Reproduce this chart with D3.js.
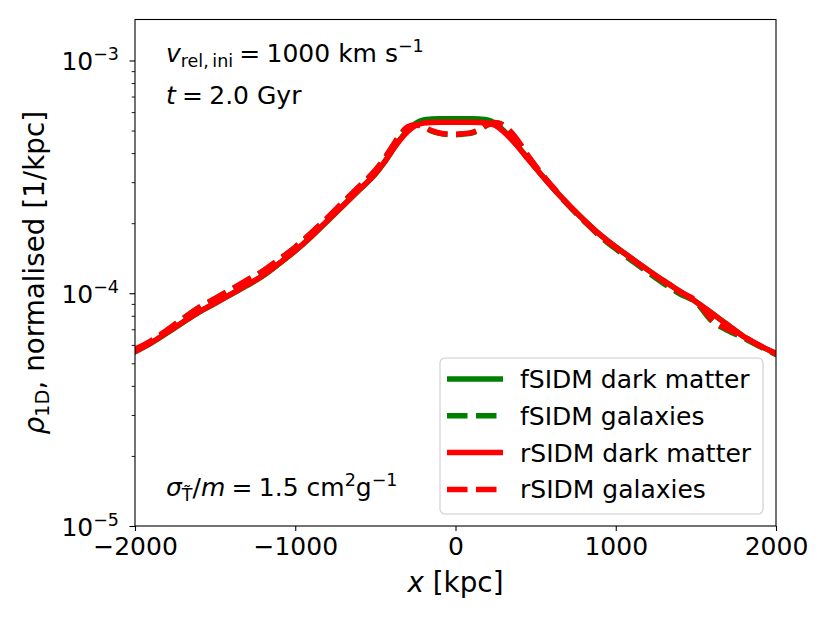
<!DOCTYPE html>
<html>
<head>
<meta charset="utf-8">
<script src="https://cdn.jsdelivr.net/npm/d3@7"></script>
<style>
  html, body { margin: 0; padding: 0; background: #fff; }
  svg { display: block; }
  text { font-family: "DejaVu Sans", sans-serif; fill: #000; }
</style>
</head>
<body>
<svg id="chart" width="830" height="623"></svg>
<script>
// ---------- data ----------
const xKpc = [-2000,-1900,-1800,-1700,-1600,-1500,-1400,-1300,-1200,-1100,-1000,-900,-800,-700,-600,-500,-450,-400,-350,-300,-250,-200,-150,-100,-50,0,50,100,150,200,250,300,350,400,450,500,600,700,800,900,1000,1100,1200,1300,1400,1500,1600,1700,1800,1900,2000];

const fSIDM_dm = [5.60e-5,6.10e-5,6.75e-5,7.50e-5,8.30e-5,9.05e-5,9.90e-5,1.08e-4,1.19e-4,1.34e-4,1.52e-4,1.75e-4,2.04e-4,2.38e-4,2.78e-4,3.25e-4,3.60e-4,4.05e-4,4.55e-4,5.00e-4,5.36e-4,5.55e-4,5.60e-4,5.62e-4,5.62e-4,5.62e-4,5.62e-4,5.62e-4,5.60e-4,5.55e-4,5.36e-4,5.00e-4,4.60e-4,4.20e-4,3.80e-4,3.45e-4,2.87e-4,2.42e-4,2.07e-4,1.79e-4,1.58e-4,1.41e-4,1.26e-4,1.13e-4,1.02e-4,9.20e-5,8.20e-5,7.30e-5,6.50e-5,5.95e-5,5.50e-5];

const fSIDM_gal = [5.72e-5,6.22e-5,6.92e-5,7.78e-5,8.65e-5,9.45e-5,1.035e-4,1.135e-4,1.245e-4,1.395e-4,1.575e-4,1.81e-4,2.10e-4,2.46e-4,2.87e-4,3.36e-4,3.72e-4,4.20e-4,4.72e-4,5.15e-4,5.28e-4,5.18e-4,4.98e-4,4.86e-4,4.81e-4,4.80e-4,4.83e-4,4.88e-4,5.03e-4,5.28e-4,5.40e-4,5.26e-4,4.88e-4,4.40e-4,3.90e-4,3.50e-4,2.88e-4,2.40e-4,2.05e-4,1.76e-4,1.55e-4,1.38e-4,1.23e-4,1.10e-4,9.95e-5,9.15e-5,7.60e-5,6.92e-5,6.42e-5,5.90e-5,5.45e-5];

const rSIDM_dm = [5.62e-5,6.12e-5,6.78e-5,7.52e-5,8.32e-5,9.08e-5,9.92e-5,1.085e-4,1.195e-4,1.345e-4,1.525e-4,1.755e-4,2.05e-4,2.39e-4,2.79e-4,3.26e-4,3.61e-4,4.05e-4,4.52e-4,4.94e-4,5.25e-4,5.38e-4,5.42e-4,5.43e-4,5.43e-4,5.43e-4,5.43e-4,5.43e-4,5.42e-4,5.38e-4,5.25e-4,4.95e-4,4.57e-4,4.18e-4,3.79e-4,3.45e-4,2.87e-4,2.42e-4,2.07e-4,1.79e-4,1.58e-4,1.41e-4,1.26e-4,1.13e-4,1.02e-4,9.20e-5,8.20e-5,7.30e-5,6.50e-5,5.95e-5,5.50e-5];

const rSIDM_gal = [5.75e-5,6.25e-5,6.95e-5,7.80e-5,8.70e-5,9.50e-5,1.04e-4,1.14e-4,1.25e-4,1.40e-4,1.58e-4,1.82e-4,2.11e-4,2.47e-4,2.88e-4,3.38e-4,3.74e-4,4.22e-4,4.75e-4,5.18e-4,5.30e-4,5.20e-4,5.00e-4,4.88e-4,4.83e-4,4.82e-4,4.85e-4,4.90e-4,5.05e-4,5.30e-4,5.42e-4,5.28e-4,4.90e-4,4.42e-4,3.92e-4,3.52e-4,2.90e-4,2.42e-4,2.06e-4,1.77e-4,1.57e-4,1.40e-4,1.25e-4,1.12e-4,1.01e-4,9.30e-5,7.70e-5,7.00e-5,6.50e-5,5.95e-5,5.50e-5];

const xTicks = [-2000, -1000, 0, 1000, 2000];
const xTickLabels = ["\u22122000", "\u22121000", "0", "1000", "2000"];
const yTicks = [1e-5, 1e-4, 1e-3];
const yTickExps = ["\u22125", "\u22124", "\u22123"];
const xDomain = [-2000, 2000];
const yDomain = [1e-5, 1.5e-3];

const seriesNames = ["fSIDM dark matter", "fSIDM galaxies", "rSIDM dark matter", "rSIDM galaxies"];
const seriesValues = [fSIDM_dm, fSIDM_gal, rSIDM_dm, rSIDM_gal];
const seriesColors = ["#008000", "#008000", "#ff0000", "#ff0000"];
const seriesDashed = [false, true, false, true];

// ---------- layout ----------
const L = 135, R = 776, T = 19.5, B = 526;
const svg = d3.select("#chart");
const x = d3.scaleLinear().domain(xDomain).range([L, R]);
const y = d3.scaleLog().domain(yDomain).range([B, T]);

const LW = 5.5;
const DASH = "20.5,8.5";
const FS = 25, FSS = 17.5;
const SP = "\u2005"; // math relation spacing

svg.append("defs").append("clipPath").attr("id", "clip")
  .append("rect").attr("x", L).attr("y", T).attr("width", R - L).attr("height", B - T);

const line = d3.line().x(d => x(d[0])).y(d => y(d[1])).curve(d3.curveMonotoneX);
const gLines = svg.append("g").attr("clip-path", "url(#clip)");
seriesValues.forEach((vals, i) => {
  const pts = xKpc.map((xv, j) => [xv, vals[j]]);
  gLines.append("path")
    .attr("d", line(pts))
    .attr("fill", "none")
    .attr("stroke", seriesColors[i])
    .attr("stroke-width", LW)
    .attr("stroke-linejoin", "round")
    .attr("stroke-linecap", seriesDashed[i] ? "butt" : "square")
    .attr("stroke-dasharray", seriesDashed[i] ? DASH : null);
});

// ---------- axes ----------
const xAxis = d3.axisBottom(x).tickValues(xTicks).tickSize(5).tickPadding(5)
  .tickFormat((d, i) => xTickLabels[i]);
const gx = svg.append("g").attr("transform", `translate(0,${B})`).call(xAxis);
gx.select(".domain").remove();
gx.selectAll(".tick line").attr("stroke", "#000").attr("stroke-width", 1.1);
gx.selectAll(".tick text").attr("font-size", FS).attr("font-family", "DejaVu Sans")
  .attr("y", 29).attr("dy", null);

// y axis: major + minor ticks via the scale
const minor = [];
[1e-5, 1e-4, 1e-3].forEach(dec => {
  for (let k = 2; k <= 9; k++) { const v = dec * k; if (v <= yDomain[1]) minor.push(v); }
});
const yAxisMinor = d3.axisLeft(y).tickValues(minor).tickSize(3.3).tickFormat("");
const gyMinor = svg.append("g").attr("transform", `translate(${L},0)`).call(yAxisMinor);
gyMinor.select(".domain").remove();
gyMinor.selectAll(".tick line").attr("stroke", "#000").attr("stroke-width", 0.9);

const yAxis = d3.axisLeft(y).tickValues(yTicks).tickSize(5.5).tickFormat("");
const gy = svg.append("g").attr("transform", `translate(${L},0)`).call(yAxis);
gy.select(".domain").remove();
gy.selectAll(".tick line").attr("stroke", "#000").attr("stroke-width", 1.1);
gy.selectAll(".tick").each(function(d, i) {
  const t = d3.select(this).append("text")
    .attr("x", -44).attr("y", 9.5)
    .attr("font-size", FS)
    .style("fill", "#000");
  t.append("tspan").text("10");
  t.append("tspan").attr("font-size", FSS).attr("dy", -10).text(yTickExps[i]);
  const w = t.node().getComputedTextLength();
  t.attr("text-anchor", "start").attr("x", -16 - w);
});

// spines
svg.append("rect").attr("x", L).attr("y", T).attr("width", R - L).attr("height", B - T)
  .attr("fill", "none").attr("stroke", "#000").attr("stroke-width", 1.1);

// axis labels
const xl = svg.append("text").attr("x", (L + R) / 2).attr("y", 592)
  .attr("text-anchor", "middle").attr("font-size", 27.8);
xl.append("tspan").attr("font-style", "italic").text("x");
xl.append("tspan").text(" [kpc]");

const yl = svg.append("text")
  .attr("transform", `translate(43.5,${(T + B) / 2}) rotate(-90)`)
  .attr("text-anchor", "middle").attr("font-size", 27.8);
yl.append("tspan").attr("font-style", "italic").text("\u03C1");
yl.append("tspan").attr("font-size", 19.5).attr("dy", 5).text("1D");
yl.append("tspan").attr("dy", -5).text(", normalised [1/kpc]");

// annotations
const a1 = svg.append("text").attr("x", 166).attr("y", 62).attr("font-size", FS);
a1.append("tspan").attr("font-style", "italic").text("v");
a1.append("tspan").attr("font-size", FSS).attr("dy", 5).text("rel,\u2009ini");
a1.append("tspan").attr("dy", -5).text(SP + "=" + SP + "1000 km s");
a1.append("tspan").attr("font-size", FSS).attr("dy", -10).text("\u22121");

const a2 = svg.append("text").attr("x", 166).attr("y", 104).attr("font-size", FS);
a2.append("tspan").attr("font-style", "italic").text("t");
a2.append("tspan").text(SP + "=" + SP + "2.0 Gyr");

const a3 = svg.append("text").attr("x", 166).attr("y", 496).attr("font-size", FS);
a3.append("tspan").attr("font-style", "italic").text("\u03C3");
a3.append("tspan").attr("font-size", FSS).attr("dy", 5).text("T\u0303");
a3.append("tspan").attr("dy", -5).text("/");
a3.append("tspan").attr("font-style", "italic").text("m");
a3.append("tspan").text(SP + "=" + SP + "1.5 cm");
a3.append("tspan").attr("font-size", FSS).attr("dy", -10).text("2");
a3.append("tspan").attr("dy", 10).text("g");
a3.append("tspan").attr("font-size", FSS).attr("dy", -10).text("\u22121");

// legend
const lg = svg.append("g");
lg.append("rect").attr("x", 440).attr("y", 358).attr("width", 323).attr("height", 156)
  .attr("rx", 5).attr("ry", 5)
  .attr("fill", "#fff").attr("fill-opacity", 0.8)
  .attr("stroke", "#cccccc").attr("stroke-width", 1.1);
seriesNames.forEach((name, i) => {
  const cy = 379 + i * 36.8;
  lg.append("line").attr("x1", 447).attr("x2", 503).attr("y1", cy).attr("y2", cy)
    .attr("stroke", seriesColors[i]).attr("stroke-width", LW)
    .attr("stroke-dasharray", seriesDashed[i] ? DASH : null);
  lg.append("text").attr("x", 520).attr("y", cy + 9).attr("font-size", FS).text(name);
});
</script>
</body>
</html>
